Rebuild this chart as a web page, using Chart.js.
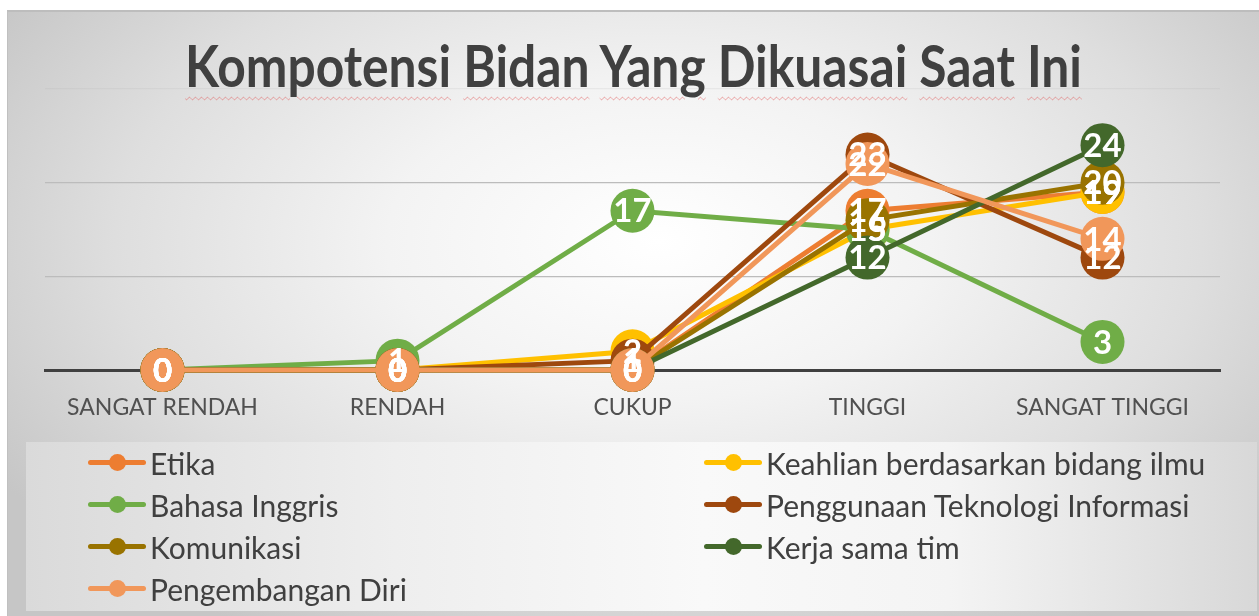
<!DOCTYPE html>
<html><head><meta charset="utf-8">
<script src="https://cdn.jsdelivr.net/npm/chart.js@4"></script>
<style>
html,body{margin:0;padding:0;}
body{width:1259px;height:616px;overflow:hidden;background:#fff;position:relative;font-family:Lato,"Open Sans",sans-serif;}
#frame{position:absolute;left:7px;top:10px;width:1252px;height:606px;
 background:radial-gradient(ellipse 62% 75% at 52% 38%, #ffffff 0%, #f3f3f3 35%, #dedede 70%, #c6c6c6 100%);
 border-top:2px solid #bdbdbd;border-left:1px solid #c0c0c0;box-sizing:border-box;}
#legendbox{position:absolute;left:26px;top:442px;width:1231px;height:169px;
 background:linear-gradient(90deg,#dadada 0%,#eeeeee 30%,#f9f9f9 55%,#f4f4f4 75%,#d8d8d8 100%);}
#title{position:absolute;left:0;top:30px;white-space:nowrap;font-weight:700;font-size:58px;color:#404040;transform-origin:0 0;line-height:70px;}
#title span{text-decoration:underline wavy rgba(225,90,90,0.55);text-decoration-thickness:1px;text-underline-offset:9px;}
canvas{position:absolute;left:0;top:0;}
.li{position:absolute;height:40px;display:flex;align-items:center;font-size:30px;color:#404040;white-space:nowrap;}
.li .mk{position:relative;width:58px;height:40px;margin-right:4px;}
.li .mk .ln{position:absolute;left:0;top:17px;width:58px;height:5px;border-radius:3px;}
.li .mk .dt{position:absolute;left:21px;top:11px;width:17px;height:17px;border-radius:50%;}
</style></head>
<body>
<div id="frame"></div>
<div id="legendbox"></div>
<canvas id="c" width="1259" height="616"></canvas>
<div id="title"></div>
<div id="legend"></div>
<script>
const titleText = "Kompotensi Bidan Yang Dikuasai Saat Ini";
const categories = ["SANGAT RENDAH","RENDAH","CUKUP","TINGGI","SANGAT TINGGI"];
const seriesNames = ["Etika","Keahlian berdasarkan bidang ilmu","Bahasa Inggris","Penggunaan Teknologi Informasi","Komunikasi","Kerja sama tim","Pengembangan Diri"];
const etika        = [0,0,0,17,19];
const keahlian     = [0,0,2,15,19];
const bahasa       = [0,1,17,15,3];
const teknologi    = [0,0,1,23,12];
const komunikasi   = [0,0,0,16,20];
const kerjasama    = [0,0,0,12,24];
const pengembangan = [0,0,0,22,14];
const yTicks = [0,10,20,30];
const colors = ["#ED7D31","#FFC000","#70AD47","#9E480E","#997300","#43682B","#F1975A"];
const values = [etika,keahlian,bahasa,teknologi,komunikasi,kerjasama,pengembangan];

// title
const t = document.getElementById('title');
t.innerHTML = titleText.split(' ').map(w=>'<span>'+w+'</span>').join(' ');
const tw = t.getBoundingClientRect().width;
const sx = 897/tw;
t.style.transform = 'scaleX('+sx+')';
t.style.left = (633 - 897/2) + 'px';

// legend
const lg = document.getElementById('legend');
seriesNames.forEach((n,i)=>{
  const col = i%2, row = Math.floor(i/2);
  const d = document.createElement('div');
  d.className='li';
  d.style.left = (col===0?88:704)+'px';
  d.style.top = (443 + row*42)+'px';
  d.innerHTML = '<div class="mk"><div class="ln" style="background:'+colors[i]+'"></div><div class="dt" style="background:'+colors[i]+'"></div></div><span>'+n+'</span>';
  lg.appendChild(d);
});

const labelPlugin = {
  id:'pointLabels',
  afterDatasetsDraw(chart){
    const ctx = chart.ctx;
    ctx.save();
    ctx.font = 'bold 33px Lato, "Open Sans", sans-serif';
    ctx.fillStyle = '#ffffff';
    ctx.textAlign = 'center';
    ctx.textBaseline = 'middle';
    chart.data.datasets.forEach((ds,i)=>{
      const meta = chart.getDatasetMeta(i);
      meta.data.forEach((pt,j)=>{
        ctx.fillText(String(ds.data[j]), pt.x, pt.y+1);
      });
    });
    ctx.restore();
  }
};

new Chart(document.getElementById('c'),{
  type:'line',
  data:{
    labels:categories,
    datasets:values.map((v,i)=>({
      label:seriesNames[i],
      data:v,
      borderColor:colors[i],
      backgroundColor:colors[i],
      pointBackgroundColor:colors[i],
      pointBorderWidth:0,
      pointRadius:22,
      pointHoverRadius:22,
      borderWidth:5,
      tension:0,
      clip:false,
      order:values.length - i
    }))
  },
  options:{
    responsive:false,
    animation:false,
    events:[],
    layout:{padding:{left:0,right:39,top:89,bottom:186}},
    plugins:{legend:{display:false},tooltip:{enabled:false},title:{display:false}},
    scales:{
      x:{
        offset:true,
        grid:{display:false,drawTicks:false},
        border:{display:true,color:'#404040',width:3},
        ticks:{color:'#505050',font:{family:'Lato, "Open Sans", sans-serif',size:23},padding:24,maxRotation:0},
        afterFit(a){a.height=60;}
      },
      y:{
        min:0,max:30,
        afterBuildTicks(a){a.ticks = yTicks.map(v=>({value:v}));},
        ticks:{display:false},
        border:{display:false},
        grid:{drawTicks:false,lineWidth:1.2,color(c){const v=c.tick.value; if(v===0) return 'rgba(0,0,0,0)'; if(v===30) return 'rgba(170,170,170,0.15)'; return '#bcbcbc';}},
        afterFit(a){a.width=45;}
      }
    }
  },
  plugins:[labelPlugin]
});
</script>
</body></html>
